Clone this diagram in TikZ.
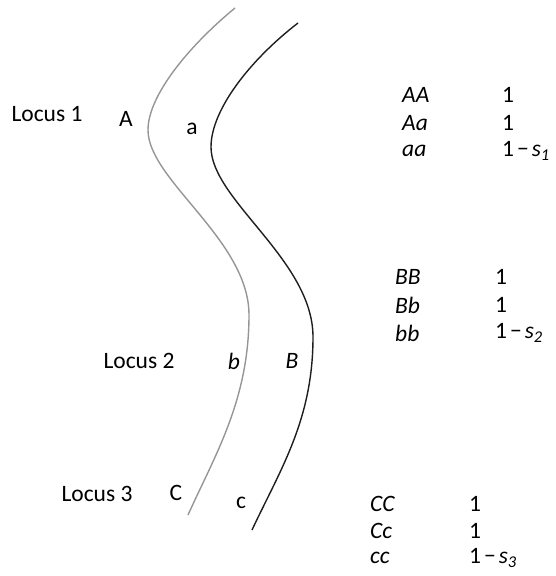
\documentclass[tikz,border=0pt]{standalone}
\usepackage{fontspec}
\setmainfont{Carlito}
\begin{document}
\begin{tikzpicture}[x=1pt,y=-1pt,
  lbl/.style={inner sep=0pt,font=\fontsize{23.5}{27}\selectfont},
  gen/.style={lbl,anchor=west,font=\fontsize{23.5}{27}\selectfont\itshape},
  fit1/.style={lbl,anchor=west},
  chromgray/.style={draw={rgb,255:red,150;green,150;blue,150},line width=1.4pt},
  chromdark/.style={draw={rgb,255:red,30;green,30;blue,30},line width=1.4pt}]
\useasboundingbox (0,0) rectangle (555,576);
% chromosomes
\draw[chromgray] (235,8) .. controls (190,45) and (148,95) .. (148,130)
  .. controls (148,180) and (249,240) .. (249,315)
  .. controls (249,400) and (215,455) .. (188,515);
\draw[chromdark] (298,23) .. controls (250,60) and (211,110) .. (211,147)
  .. controls (211,200) and (313,260) .. (313,337)
  .. controls (313,420) and (280,470) .. (252,530);
% labels
\node[lbl] (l1) at (47,114) {Locus 1};
\node[lbl] (A) at (126,119) {A};
\node[lbl] (a) at (192,129) {a};
\node[lbl] (l2) at (139,361) {Locus 2};
\node[lbl,font=\fontsize{23.5}{27}\selectfont\itshape] (b) at (234,361) {b};
\node[lbl,font=\fontsize{23.5}{27}\selectfont\itshape] (B) at (292,361) {B};
\node[lbl] (l3) at (97,494) {Locus 3};
\node[lbl] (C) at (176,493) {C};
\node[lbl] (c) at (241,503) {c};
% table 1
\node[gen] (AA) at (402,95) {AA};
\node[gen] (Aa) at (402,123) {Aa};
\node[gen] (aa) at (402,151) {aa};
\node[fit1] (f1) at (502,95) {1};
\node[fit1] (f2) at (502,123) {1};
\node[fit1] (f3) at (502,151) {1\kern3pt−\kern3pt\textit{s}\textsubscript{\textit{1}}};
% table 2
\node[gen] (BB) at (395,277) {BB};
\node[gen] (Bb) at (395,305) {Bb};
\node[gen] (bb) at (395,333) {bb};
\node[fit1] (g1) at (495,277) {1};
\node[fit1] (g2) at (495,305) {1};
\node[fit1] (g3) at (495,333) {1\kern3pt−\kern3pt\textit{s}\textsubscript{\textit{2}}};
% table 3
\node[gen] (CC) at (370,504) {CC};
\node[gen] (Cc) at (370,531) {Cc};
\node[gen] (cc) at (370,558) {cc};
\node[fit1] (h1) at (469,504) {1};
\node[fit1] (h2) at (469,531) {1};
\node[fit1] (h3) at (469,558) {1\kern3pt−\kern3pt\textit{s}\textsubscript{\textit{3}}};
\end{tikzpicture}
\end{document}
